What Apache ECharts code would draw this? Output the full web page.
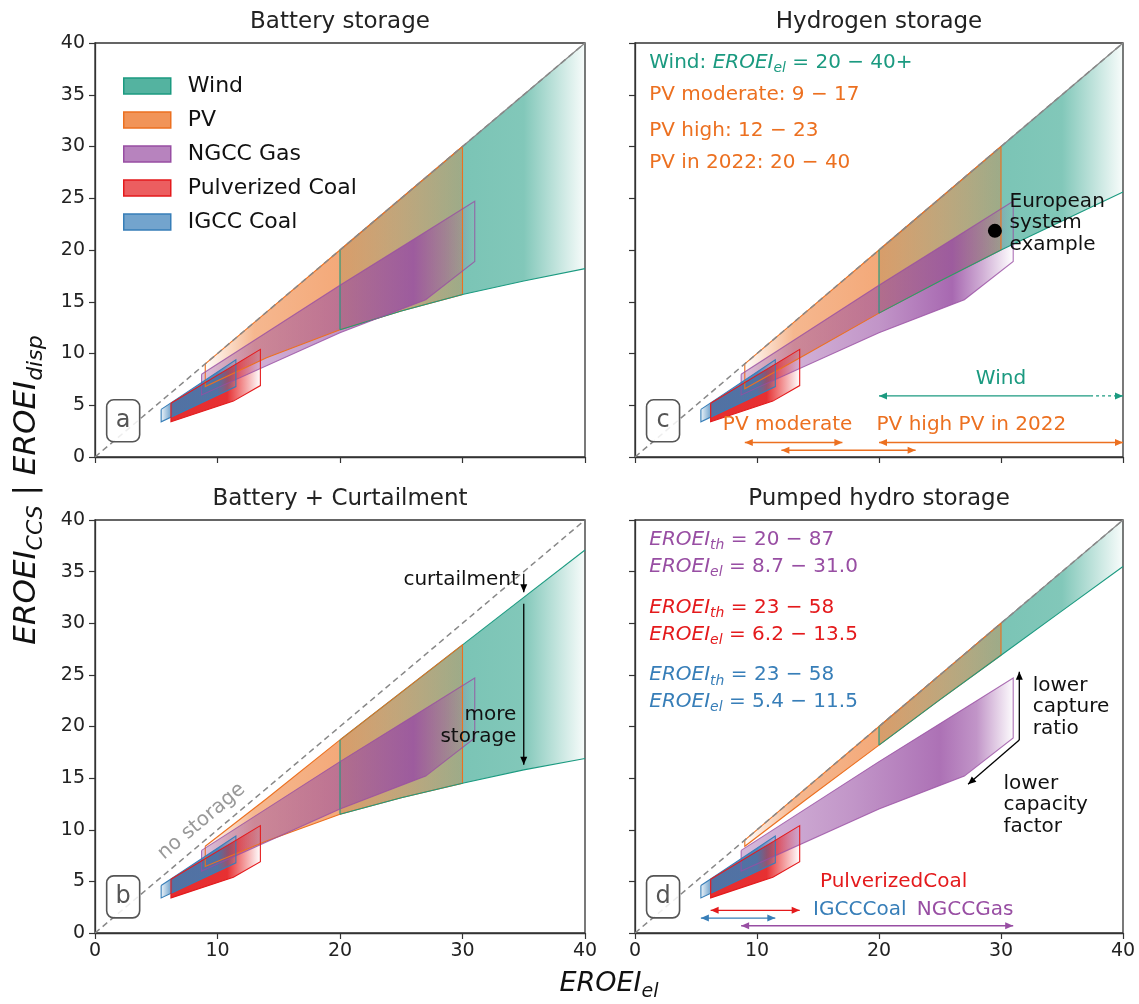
<!DOCTYPE html>
<html>
<head>
<meta charset="utf-8">
<script src="https://cdn.jsdelivr.net/npm/echarts@6/dist/echarts.min.js"></script>
<style>html,body{margin:0;background:#fff}#chart{width:1139px;height:1004px}</style>
</head>
<body>
<div id="chart"></div>
<script>
// EROEI of dispatchable (stored) electricity vs EROEI_el, four storage cases
const F = 'DejaVu Sans';
const C_WIND = '#1b9a80', C_PV = '#ec7020', C_NG = '#984ea3', C_PC = '#e41a1c', C_IG = '#377eb8';

// wind band (x = EROEI_el)
const windX = [20, 25, 30, 35, 40];
const windTopA = [20, 25, 30, 35, 40];
const windBotA = [12.3, 14.1, 15.7, 17.0, 18.2];
const windTopB = [18.7, 23.3, 27.9, 32.5, 37.1];
const windBotB = [11.5, 13.1, 14.5, 15.8, 16.9];
const windTopC = [20, 25, 30, 35, 40];
const windBotC = [13.9, 17.0, 20.0, 22.8, 25.6];
const windTopD = [20, 25, 30, 35, 40];
const windBotD = [18.2, 22.6, 26.9, 31.2, 35.5];

// PV band
const pvX = [9, 14, 20, 25, 30];
const pvTopA = [9, 14, 20, 25, 30];
const pvBotA = [6.8, 9.6, 12.3, 14.1, 15.7];
const pvTopB = [8.4, 13.0, 18.7, 23.3, 27.9];
const pvBotB = [6.45, 8.9, 11.5, 13.1, 14.5];
const pvTopC = [9, 14, 20, 25, 30];
const pvBotC = [6.6, 9.9, 13.9, 17.0, 20.0];
const pvTopD = [9, 14, 20, 25, 30];
const pvBotD = [8.4, 12.9, 18.2, 22.6, 26.9];

// CCS plants (same in every panel)
const ngccX = [8.7, 20.0, 31.0, 31.0, 27.0, 20.0, 8.7];
const ngccY = [8.0, 16.6, 24.7, 18.9, 15.2, 12.0, 6.0];
const pcX = [6.2, 13.5, 13.5, 11.3, 6.2];
const pcY = [5.2, 10.4, 6.9, 5.4, 3.4];
const igX = [5.4, 11.5, 11.5, 5.4];
const igY = [4.6, 9.4, 6.8, 3.4];

// ranges used in the annotations
const pvModerate = [9, 17], pvHigh = [12, 23], pv2022 = [20, 40], windRange = [20, 40];
const pcRange = [6.2, 13.5], igRange = [5.4, 11.5], ngRange = [8.7, 31.0];
const europe = [29.5, 21.85];

const titles = ['Battery storage', 'Hydrogen storage', 'Battery + Curtailment', 'Pumped hydro storage'];

const rgba = (hex, a) => {
  const n = parseInt(hex.slice(1), 16);
  return 'rgba(' + (n >> 16) + ',' + ((n >> 8) & 255) + ',' + (n & 255) + ',' + a + ')';
};
const zip = (xs, ys) => xs.map((x, i) => [x, ys[i]]);
const band = (xs, top, bot) => zip(xs, top).concat(zip(xs, bot).reverse());
const closed = pts => pts.concat([pts[0]]);

// alpha along x for the fading fills
const windFade = [[20, 0.3], [30, 0.58], [35, 0.55], [40, 0.03]];
const pvFade = [[9, 0.02], [13, 0.5], [20, 0.6], [30, 0.3]];
const ngFade = [[8.7, 0.35], [20, 0.6], [26, 0.85], [28.5, 0.45], [31, 0]];
const ngFadeD = [[8.7, 0.4], [18, 0.6], [25, 0.8], [28, 0.6], [31, 0.02]];
const pcFade = [[6.2, 0.92], [10.8, 0.9], [13.5, 0]];
const igFade = [[5.4, 0.1], [6.4, 0.85], [10, 0.85], [11.5, 0.15]];

function fill(name, gi, pts, color, fade) {
  return {
    type: 'custom', name: name, xAxisIndex: gi, yAxisIndex: gi, data: [[0, 0]], silent: true,
    itemStyle: { color: color },
    renderItem: function (params, api) {
      const P = pts.map(p => api.coord(p));
      const xa = api.coord([fade[0][0], 0])[0];
      const xb = api.coord([fade[fade.length - 1][0], 0])[0];
      const stops = fade.map(f => ({ offset: (api.coord([f[0], 0])[0] - xa) / (xb - xa), color: rgba(color, f[1]) }));
      return { type: 'polygon', shape: { points: P },
        style: { fill: new echarts.graphic.LinearGradient(xa, 0, xb, 0, stops, true) } };
    }
  };
}
function outlines(gi, edges) {
  return {
    type: 'custom', xAxisIndex: gi, yAxisIndex: gi, data: [[0, 0]], silent: true,
    renderItem: (params, api) => ({ type: 'group', children: edges.map(e => ({
      type: 'polyline', shape: { points: e.pts.map(p => api.coord(p)) },
      style: { stroke: e.color, lineWidth: 1.1, fill: 'none' } })) })
  };
}

function richMath(size, color, sub) {
  sub = sub || Math.round(size * 0.7);
  return {
    i: { fontStyle: 'italic', fontSize: size, fontFamily: F, fill: color, lineHeight: Math.round(size * 1.3) },
    s: { fontStyle: 'italic', fontSize: sub, fontFamily: F, fill: color, lineHeight: sub, verticalAlign: 'bottom' },
    n: { fontSize: size, fontFamily: F, fill: color, lineHeight: Math.round(size * 1.3) }
  };
}

function txt(api, x, y, text, o) {
  o = o || {};
  const p = api.coord([x, y]);
  return { type: 'text', x: p[0], y: p[1], rotation: o.rot || 0,
    style: { text: text, fill: o.color || '#111', fontSize: o.size || 20, fontFamily: F,
      align: o.align || 'left', verticalAlign: 'middle', lineHeight: o.lh || 22, rich: o.rich } };
}
function head(tip, from, color) {
  const dx = tip[0] - from[0], dy = tip[1] - from[1], L = Math.hypot(dx, dy);
  const ux = dx / L, uy = dy / L, hl = 8, hw = 3.5;
  return { type: 'polygon', shape: { points: [tip,
    [tip[0] - ux * hl - uy * hw, tip[1] - uy * hl + ux * hw],
    [tip[0] - ux * hl + uy * hw, tip[1] - uy * hl - ux * hw]] }, style: { fill: color } };
}
function seg(p0, p1, color, dash) {
  return { type: 'line', shape: { x1: p0[0], y1: p0[1], x2: p1[0], y2: p1[1] },
    style: { stroke: color, lineWidth: 1.3, lineDash: dash || null } };
}
function arrow(api, a, b, color, both, dashFrom) {
  const p0 = api.coord(a), p1 = api.coord(b);
  const els = [];
  if (dashFrom) {
    const pm = api.coord(dashFrom);
    els.push(seg(p0, pm, color), seg(pm, p1, color, [3, 3]));
  } else {
    els.push(seg(p0, p1, color));
  }
  els.push(head(p1, p0, color));
  if (both) els.push(head(p0, p1, color));
  return els;
}
function letterBox(api, letter) {
  const c = api.coord([2.3, 3.5]);
  return [
    { type: 'rect', shape: { x: c[0] - 16.5, y: c[1] - 21, width: 33, height: 42, r: 7 },
      style: { fill: 'rgba(255,255,255,0.85)', stroke: '#555', lineWidth: 1.6 } },
    { type: 'text', x: c[0], y: c[1], style: { text: letter, fill: '#555', fontSize: 24, fontFamily: F,
      align: 'center', verticalAlign: 'middle' } }
  ];
}
function notes(gi, build) {
  return { type: 'custom', xAxisIndex: gi, yAxisIndex: gi, data: [[0, 0]], silent: true, z: 4,
    renderItem: (params, api) => ({ type: 'group', children: build(api) }) };
}

const panels = [
  { windTop: windTopA, windBot: windBotA, pvTop: pvTopA, pvBot: pvBotA, ng: ngFade, edge: '#888' },
  { windTop: windTopC, windBot: windBotC, pvTop: pvTopC, pvBot: pvBotC, ng: ngFade, edge: '#888' },
  { windTop: windTopB, windBot: windBotB, pvTop: pvTopB, pvBot: pvBotB, ng: ngFade, edge: C_WIND },
  { windTop: windTopD, windBot: windBotD, pvTop: pvTopD, pvBot: pvBotD, ng: ngFadeD, edge: '#888' }
];

const series = [];
panels.forEach((p, gi) => {
  const windPts = band(windX, p.windTop, p.windBot);
  const pvPts = band(pvX, p.pvTop, p.pvBot);
  const ngPts = zip(ngccX, ngccY), pcPts = zip(pcX, pcY), igPts = zip(igX, igY);
  series.push(
    fill('Wind', gi, windPts, C_WIND, windFade),
    fill('PV', gi, pvPts, C_PV, pvFade),
    fill('NGCC Gas', gi, ngPts, C_NG, p.ng),
    fill('Pulverized Coal', gi, pcPts, C_PC, pcFade),
    fill('IGCC Coal', gi, igPts, C_IG, igFade),
    outlines(gi, [
      { pts: zip(windX, p.windTop), color: p.edge },
      { pts: closed(pvPts), color: C_PV },
      { pts: zip(windX, p.windBot), color: C_WIND },
      { pts: [[windX[0], p.windBot[0]], [windX[0], p.windTop[0]]], color: C_WIND },
      { pts: closed(ngPts), color: rgba(C_NG, 0.8) },
      { pts: closed(igPts), color: C_IG },
      { pts: closed(pcPts), color: C_PC }
    ])
  );
});

// diagonal "no storage" line on every panel
[0, 1, 2, 3].forEach(gi => series.push({
  type: 'line', xAxisIndex: gi, yAxisIndex: gi, data: [[0, 0], [40, 40]], symbol: 'none', silent: true, z: 3,
  lineStyle: { color: '#888', width: 1.5, type: [6, 4] }
}));

const mr20 = c => richMath(20, c);

// panel a
series.push(notes(0, api => letterBox(api, 'a')));

// panel c
series.push(notes(1, api => [].concat(
  letterBox(api, 'c'),
  [txt(api, 1.17, 38.1, '{n|Wind: }{i|EROEI}{s|el}{n| = 20 − 40+}', { rich: mr20(C_WIND) }),
   txt(api, 1.17, 35.0, 'PV moderate: 9 − 17', { color: C_PV }),
   txt(api, 1.17, 31.5, 'PV high: 12 − 23', { color: C_PV }),
   txt(api, 1.17, 28.4, 'PV in 2022: 20 − 40', { color: C_PV }),
   (function () { const c = api.coord(europe); return { type: 'circle', shape: { cx: c[0], cy: c[1], r: 7 }, style: { fill: '#000' } }; })(),
   txt(api, 30.7, 22.6, 'European\nsystem\nexample', { lh: 21.5 }),
   txt(api, 30, 7.6, 'Wind', { color: C_WIND, align: 'center' }),
   txt(api, 7.2, 3.07, 'PV moderate', { color: C_PV }),
   txt(api, 19.8, 3.07, 'PV high PV in 2022', { color: C_PV })],
  arrow(api, [windRange[0], 5.9], [windRange[1], 5.9], C_WIND, true, [37.3, 5.9]),
  arrow(api, [pvModerate[0], 1.4], [pvModerate[1], 1.4], C_PV, true),
  arrow(api, [pvHigh[0], 0.65], [pvHigh[1], 0.65], C_PV, true),
  arrow(api, [pv2022[0], 1.4], [pv2022[1], 1.4], C_PV, true)
)));

// panel b
series.push(notes(2, api => [].concat(
  letterBox(api, 'b'),
  [txt(api, 8.7, 10.8, 'no storage', { color: '#999', align: 'center', rot: 0.70 }),
   txt(api, 34.6, 34.2, 'curtailment', { align: 'right' }),
   txt(api, 34.4, 20.05, 'more\nstorage', { align: 'right', lh: 21.5 })],
  arrow(api, [35, 34.8], [35, 33.0], '#000'),
  arrow(api, [35, 31.9], [35, 16.3], '#000')
)));

// panel d
series.push(notes(3, api => [].concat(
  letterBox(api, 'd'),
  [txt(api, 1.17, 38.1, '{i|EROEI}{s|th}{n| = 20 − 87}', { rich: mr20(C_NG) }),
   txt(api, 1.17, 35.5, '{i|EROEI}{s|el}{n| = 8.7 − 31.0}', { rich: mr20(C_NG) }),
   txt(api, 1.17, 31.5, '{i|EROEI}{s|th}{n| = 23 − 58}', { rich: mr20(C_PC) }),
   txt(api, 1.17, 28.9, '{i|EROEI}{s|el}{n| = 6.2 − 13.5}', { rich: mr20(C_PC) }),
   txt(api, 1.17, 25.0, '{i|EROEI}{s|th}{n| = 23 − 58}', { rich: mr20(C_IG) }),
   txt(api, 1.17, 22.4, '{i|EROEI}{s|el}{n| = 5.4 − 11.5}', { rich: mr20(C_IG) }),
   txt(api, 32.6, 21.9, 'lower\ncapture\nratio', { lh: 21.5 }),
   txt(api, 30.2, 12.4, 'lower\ncapacity\nfactor', { lh: 21.5 }),
   txt(api, 21.2, 5.0, 'PulverizedCoal', { color: C_PC, align: 'center' }),
   txt(api, 14.6, 2.26, 'IGCCCoal', { color: C_IG }),
   txt(api, 23.1, 2.26, 'NGCCGas', { color: C_NG })],
  arrow(api, [31.5, 18.7], [31.5, 25.3], '#000'),
  arrow(api, [31.5, 18.7], [27.3, 14.4], '#000'),
  arrow(api, [pcRange[0], 2.2], [pcRange[1], 2.2], C_PC, true),
  arrow(api, [igRange[0], 1.45], [igRange[1], 1.45], C_IG, true),
  arrow(api, [ngRange[0], 0.7], [ngRange[1], 0.7], C_NG, true)
)));

const grids = [
  { left: 95, top: 43, width: 490, height: 414 },
  { left: 635, top: 43, width: 488, height: 414 },
  { left: 95, top: 520, width: 490, height: 413 },
  { left: 635, top: 520, width: 488, height: 413 }
].map(g => Object.assign(g, { show: true, borderColor: '#333', borderWidth: 1.3, outerBoundsMode: 'none' }));

const axisCommon = {
  type: 'value', min: 0, max: 40,
  axisLine: { show: true, onZero: false, lineStyle: { color: '#333', width: 1.3 } },
  axisTick: { show: true, inside: false, length: 6, lineStyle: { color: '#333', width: 1.2 } },
  splitLine: { show: false }
};
const xAxes = [0, 1, 2, 3].map(gi => Object.assign({}, axisCommon, {
  gridIndex: gi, interval: 10,
  axisLabel: { show: gi >= 2, fontSize: 19, fontFamily: F, color: '#222', margin: 9 }
}));
const yAxes = [0, 1, 2, 3].map(gi => Object.assign({}, axisCommon, {
  gridIndex: gi, interval: 5,
  axisLabel: { show: gi % 2 === 0, fontSize: 19, fontFamily: F, color: '#222', margin: 10 }
}));

const titleEls = grids.map((g, i) => ({
  type: 'text', x: g.left + g.width / 2, y: g.top - 21,
  style: { text: titles[i], fontSize: 23, fontFamily: F, fill: '#222', align: 'center', verticalAlign: 'middle' }
}));

const chart = echarts.init(document.getElementById('chart'), null, { renderer: 'canvas' });
chart.setOption({
  animation: false,
  backgroundColor: '#fff',
  grid: grids,
  xAxis: xAxes,
  yAxis: yAxes,
  legend: {
    left: 118, top: 70, orient: 'vertical', icon: 'rect', itemWidth: 47, itemHeight: 16, itemGap: 12,
    textStyle: { fontSize: 22, fontFamily: F, color: '#111', padding: [0, 0, 0, 12] },
    data: [
      { name: 'Wind', itemStyle: { color: rgba(C_WIND, 0.75), borderColor: C_WIND, borderWidth: 1.5 } },
      { name: 'PV', itemStyle: { color: rgba(C_PV, 0.75), borderColor: C_PV, borderWidth: 1.5 } },
      { name: 'NGCC Gas', itemStyle: { color: rgba(C_NG, 0.7), borderColor: C_NG, borderWidth: 1.5 } },
      { name: 'Pulverized Coal', itemStyle: { color: rgba(C_PC, 0.7), borderColor: C_PC, borderWidth: 1.5 } },
      { name: 'IGCC Coal', itemStyle: { color: rgba(C_IG, 0.7), borderColor: C_IG, borderWidth: 1.5 } }
    ]
  },
  graphic: titleEls.concat([
    { type: 'text', x: 27, y: 490, rotation: Math.PI / 2,
      style: { text: '{i|EROEI}{s|CCS}{n| | }{i|EROEI}{s|disp}', align: 'center', verticalAlign: 'middle',
        rich: richMath(31, '#111', 22) } },
    { type: 'text', x: 609, y: 984,
      style: { text: '{i|EROEI}{s|el}', align: 'center', verticalAlign: 'middle', rich: richMath(27, '#111') } }
  ]),
  series: series
});
</script>
</body>
</html>
